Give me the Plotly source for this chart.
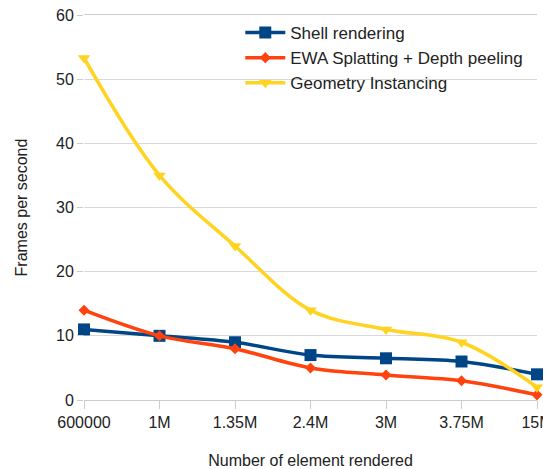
import plotly.graph_objects as go

# 数据
categories = ["600000", "1M", "1.35M", "2.4M", "3M", "3.75M", "15M"]
shell = [11, 10, 9, 7, 6.5, 6, 4]
ewa = [14, 10, 8, 5, 3.9, 3, 0.8]
geometry = [53.3, 35, 24, 14, 11, 9, 2]

fig = go.Figure()
fig.add_trace(go.Scatter(x=categories, y=shell, name="Shell rendering",
                         mode="lines+markers", line=dict(color="#004586", width=3.5, shape="spline"),
                         marker=dict(symbol="square", size=12, color="#004586"),
                         cliponaxis=False))
fig.add_trace(go.Scatter(x=categories, y=ewa, name="EWA Splatting + Depth peeling",
                         mode="lines+markers", line=dict(color="#ff420e", width=3.5, shape="spline"),
                         marker=dict(symbol="diamond", size=8.5, color="#ff420e"),
                         cliponaxis=False))
fig.add_trace(go.Scatter(x=categories, y=geometry, name="Geometry Instancing",
                         mode="lines+markers", line=dict(color="#ffd320", width=3.5, shape="spline"),
                         marker=dict(symbol="triangle-down", size=11, color="#ffd320"),
                         cliponaxis=False))

# 页面自带 8px 边距，图尺寸相应缩小
fig.update_layout(
    width=543, height=461,
    margin=dict(l=76, r=14, t=7, b=69, autoexpand=False),
    paper_bgcolor="white", plot_bgcolor="white",
    font=dict(family="Liberation Sans, Arial, sans-serif", color="#222222", size=16),
    showlegend=True,
    legend=dict(x=0.345, y=1.0, xanchor="left", yanchor="top",
                font=dict(size=17), bgcolor="rgba(0,0,0,0)", itemwidth=40,
                tracegroupgap=0),
    xaxis=dict(type="category", range=[0, 6], showgrid=False, automargin=False,
               showline=True, linecolor="#cccccc", mirror=True,
               ticks="outside", ticklen=8, tickcolor="#cccccc",
               tickfont=dict(size=16), ticklabeloverflow="allow",
               title=dict(text="Number of element rendered", font=dict(size=16), standoff=24)),
    yaxis=dict(range=[0, 60], dtick=10, gridcolor="#d9d9d9", zeroline=False, automargin=False,
               showline=False, ticks="outside", ticklen=6, tickcolor="#cccccc",
               tickfont=dict(size=16), ticklabeloverflow="allow",
               title=dict(text="Frames per second", font=dict(size=16), standoff=24)),
)

fig.write_html("out.html")
